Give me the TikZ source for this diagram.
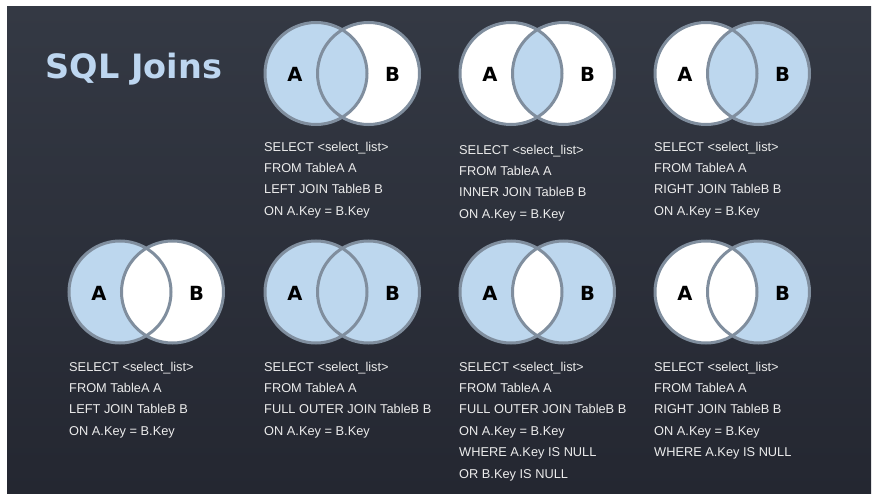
\documentclass[tikz,border=0pt]{standalone}
\usepackage{fontspec}
\setmainfont{Liberation Sans}
\newfontfamily\titlefont{DejaVu Sans}
\usepackage{tikz}
\definecolor{bgtop}{RGB}{52,57,68}
\definecolor{bgbottom}{RGB}{36,39,49}
\definecolor{vennblue}{RGB}{189,215,238}
\definecolor{venngray}{RGB}{128,142,158}
\definecolor{codegray}{RGB}{236,236,236}
\definecolor{titleblue}{RGB}{189,214,240}

\begin{document}
\begin{tikzpicture}[x=1pt,y=-1pt,
    sqltext/.style={anchor=base west, align=left, text=codegray, inner sep=0pt,
      font=\fontsize{12.8}{21.4}\selectfont},
    setlabel/.style={inner sep=0pt, text=black,
      font=\titlefont\bfseries\fontsize{19.5}{19.5}\selectfont}]
    % Frame and background
    \fill[white] (0,0) rectangle (881,503);
    \shade[top color=bgtop, bottom color=bgbottom] (7,7) rectangle (871,493);
    \useasboundingbox (0,0) rectangle (881,503);

    % Title
    \node[text=titleblue, font=\titlefont\bfseries\fontsize{33.5}{33.5}\selectfont]
        (title) at (134,69) {SQL Joins};

    % Venn diagrams: A centre / left, middle, right colour / name
    \foreach \cx/\cy/\lc/\mc/\rc/\nm in {
        316/73.5/vennblue/vennblue/white/left,
        511/73.5/white/vennblue/white/inner,
        706/73.5/white/vennblue/vennblue/right,
        120/292/vennblue/white/white/leftonly,
        316/292/vennblue/vennblue/vennblue/full,
        511/292/vennblue/white/vennblue/outer,
        706/292/white/white/vennblue/rightonly}
    {
        \fill[\lc] (\cx,\cy) circle (51);
        \fill[\rc] (\cx+52.5,\cy) circle (51);
        \begin{scope}
            \clip (\cx,\cy) circle (51);
            \fill[\mc] (\cx+52.5,\cy) circle (51);
        \end{scope}
        \draw[venngray, line width=3] (\cx,\cy) circle (51) (\cx+52.5,\cy) circle (51);
        \node[setlabel] (\nm A) at (\cx-21,\cy+1) {A};
        \node[setlabel] (\nm B) at (\cx+76.5,\cy+1) {B};
    }

    % Queries (placed by the baseline of their last line)
    \node[sqltext] (leftsql) at (264,215.2) {SELECT <select\_list>\\FROM TableA A\\LEFT JOIN TableB B\\ON A.Key = B.Key};
    \node[sqltext] (innersql) at (459,218.2) {SELECT <select\_list>\\FROM TableA A\\INNER JOIN TableB B\\ON A.Key = B.Key};
    \node[sqltext] (rightsql) at (654,215.2) {SELECT <select\_list>\\FROM TableA A\\RIGHT JOIN TableB B\\ON A.Key = B.Key};
    \node[sqltext] (leftonlysql) at (69,435.2) {SELECT <select\_list>\\FROM TableA A\\LEFT JOIN TableB B\\ON A.Key = B.Key};
    \node[sqltext] (fullsql) at (264,435.2) {SELECT <select\_list>\\FROM TableA A\\FULL OUTER JOIN TableB B\\ON A.Key = B.Key};
    \node[sqltext] (outersql) at (459,478) {SELECT <select\_list>\\FROM TableA A\\FULL OUTER JOIN TableB B\\ON A.Key = B.Key\\WHERE A.Key IS NULL\\OR B.Key IS NULL};
    \node[sqltext] (rightonlysql) at (654,456.6) {SELECT <select\_list>\\FROM TableA A\\RIGHT JOIN TableB B\\ON A.Key = B.Key\\WHERE A.Key IS NULL};
\end{tikzpicture}
\end{document}
